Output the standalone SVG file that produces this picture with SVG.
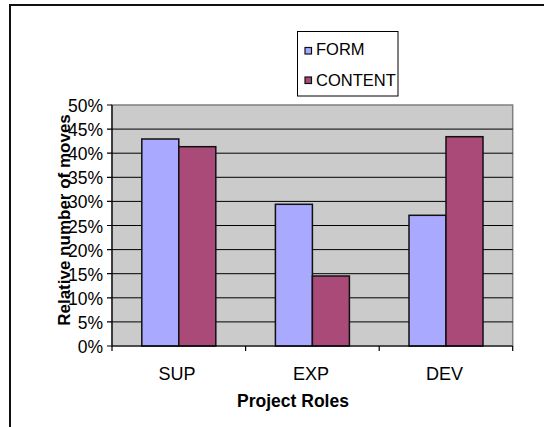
<svg xmlns="http://www.w3.org/2000/svg" width="544" height="427" viewBox="0 0 544 427">
  <style>
    text { font-family: "Liberation Sans", Arial, sans-serif; fill: #000; }
    .tick { font-size: 17.5px; text-anchor: end; }
    .cat { font-size: 18px; text-anchor: middle; }
    .title { font-size: 17.5px; font-weight: bold; text-anchor: middle; }
    .ytitle { font-size: 17px; font-weight: bold; text-anchor: middle; }
    .leg { font-size: 16.5px; }
    .grid { stroke: #000; stroke-width: 1; }
    .form { fill: #A9A9FF; stroke: #111; stroke-width: 1.5; }
    .content { fill: #AA4A78; stroke: #111; stroke-width: 1.5; }
    .axis { stroke: #000; stroke-width: 1.2; fill: none; }
  </style>
  <rect x="0" y="0" width="544" height="427" fill="#fff"/>
  <rect id="chart-border" x="10" y="5" width="600" height="500" fill="none" stroke="#111" stroke-width="2"/>

  <g id="plot">
    <rect x="112" y="105" width="400.7" height="241" fill="#CBCBCB" stroke="#808080" stroke-width="1.5"/>
    <g id="gridlines">
      <line class="grid" x1="112" y1="129.1" x2="512.7" y2="129.1"/>
      <line class="grid" x1="112" y1="153.2" x2="512.7" y2="153.2"/>
      <line class="grid" x1="112" y1="177.3" x2="512.7" y2="177.3"/>
      <line class="grid" x1="112" y1="201.4" x2="512.7" y2="201.4"/>
      <line class="grid" x1="112" y1="225.5" x2="512.7" y2="225.5"/>
      <line class="grid" x1="112" y1="249.6" x2="512.7" y2="249.6"/>
      <line class="grid" x1="112" y1="273.7" x2="512.7" y2="273.7"/>
      <line class="grid" x1="112" y1="297.8" x2="512.7" y2="297.8"/>
      <line class="grid" x1="112" y1="321.9" x2="512.7" y2="321.9"/>
    </g>
  </g>

  <g id="bars">
    <g id="sup">
      <rect class="form" x="141.8" y="139" width="37" height="207"/>
      <rect class="content" x="178.8" y="146.7" width="37" height="199.3"/>
    </g>
    <g id="exp">
      <rect class="form" x="275.4" y="204.3" width="37" height="141.7"/>
      <rect class="content" x="312.4" y="276" width="37" height="70"/>
    </g>
    <g id="dev">
      <rect class="form" x="409" y="215.3" width="37" height="130.7"/>
      <rect class="content" x="446" y="136.7" width="37" height="209.3"/>
    </g>
  </g>

  <g id="axes">
    <line class="axis" x1="112" y1="105" x2="112" y2="346"/>
    <line class="axis" x1="112" y1="346" x2="512.7" y2="346"/>
    <path class="axis" d="M107 105H112M107 129.1H112M107 153.2H112M107 177.3H112M107 201.4H112M107 225.5H112M107 249.6H112M107 273.7H112M107 297.8H112M107 321.9H112M107 346H112"/>
    <path class="axis" d="M112 346V351M245.6 346V351M379.2 346V351M512.7 346V351"/>
  </g>

  <g id="y-labels">
    <text class="tick" x="103" y="112">50%</text>
    <text class="tick" x="103" y="136.1">45%</text>
    <text class="tick" x="103" y="160.2">40%</text>
    <text class="tick" x="103" y="184.3">35%</text>
    <text class="tick" x="103" y="208.4">30%</text>
    <text class="tick" x="103" y="232.5">25%</text>
    <text class="tick" x="103" y="256.6">20%</text>
    <text class="tick" x="103" y="280.7">15%</text>
    <text class="tick" x="103" y="304.8">10%</text>
    <text class="tick" x="103" y="328.9">5%</text>
    <text class="tick" x="103" y="353">0%</text>
  </g>

  <g id="x-labels">
    <text class="cat" x="177" y="380">SUP</text>
    <text class="cat" x="311" y="380">EXP</text>
    <text class="cat" x="444.5" y="380">DEV</text>
  </g>

  <text class="title" x="293" y="407">Project Roles</text>
  <text class="ytitle" transform="translate(69.5,220) rotate(-90)">Relative number of moves</text>

  <g id="legend">
    <rect x="297.5" y="31.5" width="100.5" height="64.5" fill="#fff" stroke="#000" stroke-width="1"/>
    <g id="legend-form">
      <rect x="305" y="47.5" width="6.5" height="6.5" fill="#A9A9FF" stroke="#111" stroke-width="1.2"/>
      <text class="leg" x="316" y="54.5">FORM</text>
    </g>
    <g id="legend-content">
      <rect x="305" y="77" width="6.5" height="6.5" fill="#AA4A78" stroke="#111" stroke-width="1.2"/>
      <text class="leg" x="316" y="86">CONTENT</text>
    </g>
  </g>
</svg>
